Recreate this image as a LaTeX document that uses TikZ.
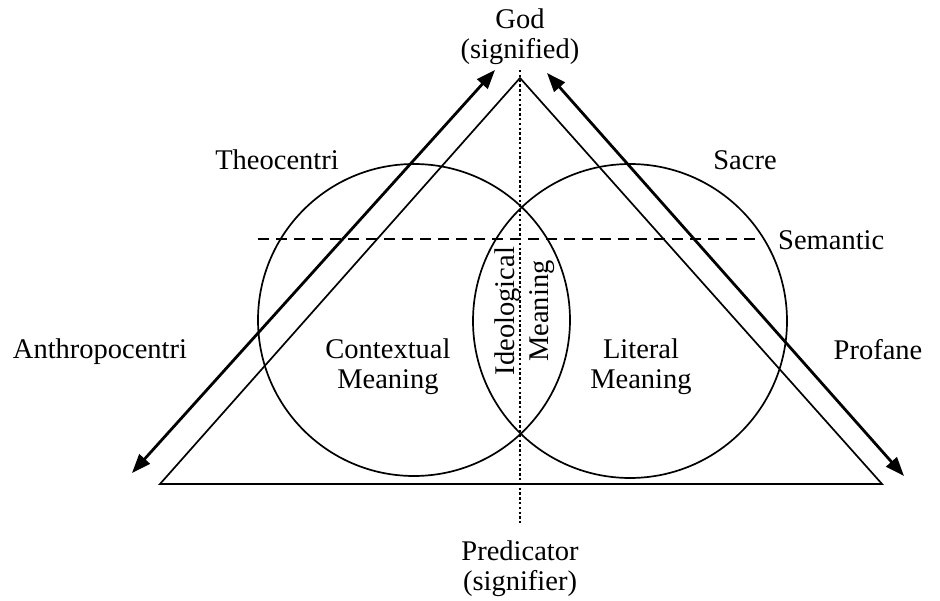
\documentclass[tikz,border=0pt]{standalone}
\usepackage{fontspec}
\setmainfont{Liberation Serif}
\usetikzlibrary{arrows.meta}
\begin{document}
\begin{tikzpicture}[x=1pt,y=-1pt,
  lbl/.style={font=\fontsize{28.5}{32}\selectfont, inner sep=0pt, align=center},
  thin/.style={line width=1.7pt},
  bigarrow/.style={line width=2.8pt, {Triangle[length=19pt,width=14pt]}-{Triangle[length=19pt,width=14pt]}}]
\useasboundingbox (0,0) rectangle (940,601);
\fill[white] (0,0) rectangle (940,601);
% triangle
\coordinate (apex) at (520,78);
\coordinate (bl) at (160,484);
\coordinate (br) at (882,484);
\draw[thin, line join=miter] (apex) -- (bl) -- (br) -- cycle;
% circles
\node[draw, thin, circle, minimum size=312pt, inner sep=0pt] (lc) at (414,320) {};
\node[draw, thin, circle, minimum size=314pt, inner sep=0pt] (rc) at (630,321) {};
% dotted vertical axis
\coordinate (vt) at (520,70);
\coordinate (vb) at (520,523);
\draw[line width=2.4pt, dash pattern=on 2.4pt off 2.4pt] (vt) -- (vb);
% dashed horizontal
\coordinate (dl) at (258,239);
\coordinate (dr) at (756,239);
\draw[line width=2.4pt, dash pattern=on 11pt off 7pt] (dl) -- (dr);
% arrows
\coordinate (la1) at (495,70);
\coordinate (la2) at (132,473);
\coordinate (ra1) at (547,73);
\coordinate (ra2) at (904,476);
\draw[bigarrow] (la1) -- (la2);
\draw[bigarrow] (ra1) -- (ra2);
% labels
\node[lbl] (god) at (520,37) {God\\[-2pt](signified)};
\node[lbl] (pred) at (520,569) {Predicator\\[-2pt](signifier)};
\node[lbl] (theo) at (277,160) {Theocentri};
\node[lbl] (sacre) at (745,160) {Sacre};
\node[lbl, anchor=west] (sem) at (778,240) {Semantic};
\node[lbl] (anthro) at (100,352) {Anthropocentri};
\node[lbl] (prof) at (878,350) {Profane};
\node[lbl] (ctx) at (388,367) {Contextual\\[-2pt]Meaning};
\node[lbl] (lit) at (641,367) {Literal\\[-2pt]Meaning};
\node[lbl, rotate=90] (ideo) at (508,311) {Ideological};
\node[lbl, rotate=90] (ideom) at (542,311) {Meaning};
\end{tikzpicture}
\end{document}
